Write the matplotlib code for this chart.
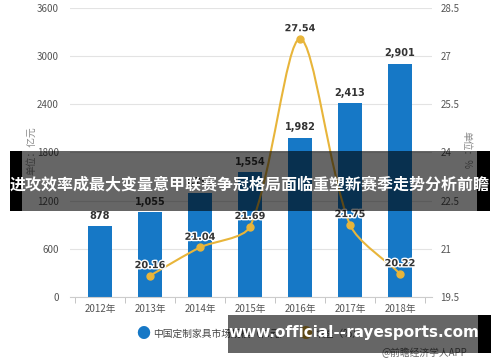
import matplotlib
matplotlib.use("Agg")
import matplotlib.pyplot as plt
import matplotlib.patheffects as pe
from matplotlib.path import Path
from matplotlib.patches import PathPatch, Rectangle
import numpy as np

plt.rcParams["font.family"] = ["Noto Sans CJK SC", "DejaVu Sans"]

# 数据
years = ["2012年", "2013年", "2014年", "2015年", "2016年", "2017年", "2018年"]
market_size = [878, 1055, 1296, 1554, 1982, 2413, 2901]
growth_years = [1, 2, 3, 4, 5, 6]
growth_rate = [20.16, 21.04, 21.69, 27.54, 21.75, 20.22]

left_ticks = [0, 600, 1200, 1800, 2400, 3000, 3600]
right_ticks = [19.5, 21, 22.5, 24, 25.5, 27, 28.5]

BLUE = "#1678c6"
GOLD = "#e8b53a"
GRID = "#e3e3e3"
TXT = "#555555"


def smooth_path(axis, xs, ys, smooth=0.28):
    """按像素距离分配控制点的平滑曲线（类似 echarts smooth）。"""
    pts = axis.transData.transform(np.column_stack([xs, ys]))
    n = len(pts)
    cps = []
    for i in range(n):
        p = pts[i]
        prev = pts[i - 1] if i > 0 else p
        nxt = pts[i + 1] if i < n - 1 else p
        v = (nxt - prev) * smooth
        d0 = np.hypot(*(p - prev))
        d1 = np.hypot(*(p - nxt))
        tot = d0 + d1
        if tot == 0:
            cps.append((p, p))
            continue
        cps.append((p - v * d0 / tot, p + v * d1 / tot))
    verts = [pts[0]]
    codes = [Path.MOVETO]
    for i in range(n - 1):
        verts += [cps[i][1], cps[i + 1][0], pts[i + 1]]
        codes += [Path.CURVE4] * 3
    verts = axis.transData.inverted().transform(np.array(verts))
    return Path(verts, codes)


fig = plt.figure(figsize=(5.0, 3.62), dpi=100)
ax = fig.add_axes([0.14, 0.18, 0.724, 0.798])
ax2 = ax.twinx()

x = np.arange(len(years))
ax.bar(x, market_size, width=0.48, color=BLUE, zorder=2)
for xi, v in zip(x, market_size):
    ax.text(xi, v + 70, f"{v:,}", ha="center", va="bottom", fontsize=7,
            fontweight="bold", color="#333333", family=["DejaVu Sans"])

ax.set_xlim(-0.6, 6.64)
ax.set_ylim(0, 3600)
ax.set_yticks(left_ticks)
ax.set_yticklabels([str(t) for t in left_ticks])
ax.grid(axis="y", color=GRID, linewidth=0.8, zorder=0)
ax.set_axisbelow(True)
ax.set_xticks(x)
ax.set_xticklabels(years)
ax.set_xticks(np.arange(-0.5, 7, 1), minor=True)
ax.tick_params(axis="x", which="major", length=0, colors=TXT, labelsize=7, pad=5)
ax.tick_params(axis="x", which="minor", length=4, color="#bbbbbb")
ax.tick_params(axis="y", length=0, colors=TXT, labelsize=7, pad=8)
for s in ["top", "left", "right"]:
    ax.spines[s].set_visible(False)
ax.spines["bottom"].set_color("#cccccc")

ax2.set_ylim(19.5, 28.5)
ax2.set_yticks(right_ticks)
ax2.set_yticklabels([f"{t:g}" for t in right_ticks])
ax2.tick_params(axis="y", length=0, colors=TXT, labelsize=7, pad=6)
for s in ax2.spines.values():
    s.set_visible(False)

ax2.add_patch(PathPatch(smooth_path(ax2, growth_years, growth_rate), fill=False,
                        edgecolor=GOLD, linewidth=1.5, zorder=3))
ax2.plot(growth_years, growth_rate, "o", color=GOLD, markersize=5, zorder=4)
for xi, v in zip(growth_years, growth_rate):
    ax2.annotate(f"{v:.2f}", (xi, v), xytext=(0, 4), textcoords="offset points",
                 ha="center", va="bottom", fontsize=7, fontweight="bold",
                 color="#333333", family=["DejaVu Sans"], zorder=5,
                 path_effects=[pe.withStroke(linewidth=2, foreground="white")])

fig.text(0.062, 0.585, "单位：亿元", rotation=90, fontsize=7, color="#888888",
         ha="center", va="center")
fig.text(0.932, 0.585, "单位：%", rotation=270, fontsize=7, color="#888888",
         ha="center", va="center")

# 图例
fig.text(0.286, 0.077, "●", fontsize=10, color=BLUE, ha="center", va="center")
fig.text(0.306, 0.077, "中国定制家具市场规模（亿元）", fontsize=7, color="#444444",
         ha="left", va="center")
fig.text(0.61, 0.077, "●", fontsize=10, color=GOLD, ha="center", va="center")
fig.text(0.63, 0.077, "增速（%）", fontsize=7, color="#444444", ha="left", va="center")
fig.text(0.934, 0.025, "@前瞻经济学人APP", fontsize=7, color="#666666",
         ha="right", va="center")

# 标题遮罩条
W, H = 500.0, 362.0
fig.patches.append(Rectangle((10 / W, 1 - 211 / H), 480 / W, 60 / H,
                             transform=fig.transFigure, facecolor="black",
                             alpha=0.6, zorder=10))
fig.patches.append(Rectangle((10 / W, 1 - 211 / H), 12 / W, 60 / H,
                             transform=fig.transFigure, facecolor="black",
                             zorder=10))
fig.patches.append(Rectangle((477 / W, 1 - 211 / H), 13 / W, 60 / H,
                             transform=fig.transFigure, facecolor="black",
                             zorder=10))
fig.text(0.5, 1 - 184 / H, "进攻效率成最大变量意甲联赛争冠格局面临重塑新赛季走势分析前瞻",
         ha="center", va="center", fontsize=11.5, fontweight="bold",
         color="white", zorder=11)

# 网址遮罩条
fig.patches.append(Rectangle((228 / W, 1 - 353 / H), 263 / W, 38 / H,
                             transform=fig.transFigure, facecolor="black",
                             alpha=0.6, zorder=10))
fig.patches.append(Rectangle((478 / W, 1 - 353 / H), 13 / W, 38 / H,
                             transform=fig.transFigure, facecolor="black",
                             zorder=10))
fig.text(354 / W, 1 - 333 / H, "www.official--rayesports.com", ha="center",
         va="center", fontsize=11, fontweight="bold", color="white",
         family=["DejaVu Sans"], zorder=11)

fig.savefig("out.png", dpi=100)
